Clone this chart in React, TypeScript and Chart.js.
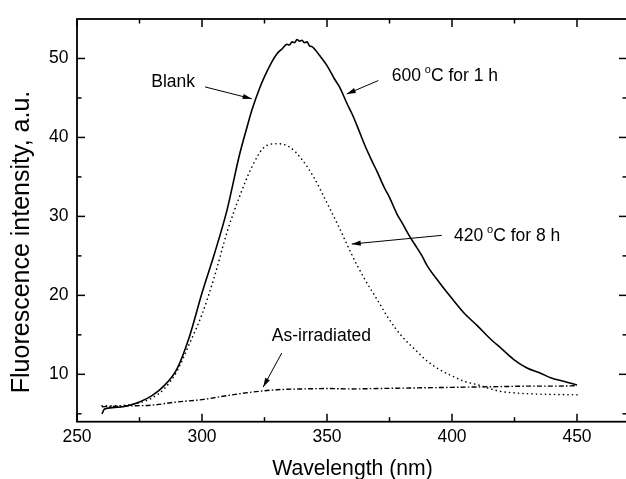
import React, { useEffect, useRef } from "react";
import { Chart, registerables } from "chart.js";

Chart.register(...registerables);

// ---- data ----
const solidWavelengths = [
  260, 261, 265, 270, 275, 280, 285, 290, 295, 300, 305, 310, 315, 318, 320, 323, 325, 328, 330, 332,
  334, 335, 336, 337, 338, 339, 340, 341, 342, 343, 344, 345, 347, 350, 353, 355, 358, 360, 362, 365,
  368, 370, 373, 375, 378, 380, 383, 385, 388, 390, 395, 400, 405, 410, 415, 420, 425, 430, 435, 440,
  445, 450,
];
const blankIntensity = [
  5.0, 5.6, 5.8, 6.0, 6.5, 7.3, 8.6, 10.7, 14.8, 20.3, 25.3, 30.8, 37.8, 41.3, 43.5, 46.2, 47.7, 49.6, 50.6, 51.2,
  51.8, 51.7, 52.1, 52.0, 52.4, 52.2, 52.3, 52.0, 52.1, 51.6, 51.5, 51.2, 50.4, 49.1, 47.4, 46.4, 44.3, 43.0, 41.5, 39.1,
  37.0, 35.7, 33.6, 32.4, 30.3, 29.2, 27.5, 26.5, 25.0, 23.8, 21.6, 19.6, 17.7, 16.2, 14.6, 13.2, 11.8, 10.8, 10.2, 9.5,
  9.1, 8.65,
];

const dottedWavelengths = [
  260, 265, 270, 275, 280, 285, 290, 295, 300, 305, 310, 315, 320, 325, 330, 335, 340, 345, 350, 355,
  360, 365, 370, 375, 380, 385, 390, 395, 400, 405, 410, 415, 420, 425, 430, 440, 450,
];
const annealed420Intensity = [
  6.0, 6.0, 6.1, 6.4, 7.0, 8.2, 10.4, 13.9, 17.6, 22.4, 28.0, 32.5, 36.3, 38.8, 39.2, 38.8, 37.2, 34.8, 31.7, 28.5,
  25.1, 22.1, 19.5, 16.9, 14.8, 13.2, 11.7, 10.6, 9.8, 9.1, 8.7, 8.2, 7.8, 7.65, 7.55, 7.45, 7.4,
];

const dashDotWavelengths = [
  260, 270, 280, 290, 300, 310, 320, 330, 340, 350, 360, 370, 380, 390, 400, 410, 420, 430, 440, 450,
];
const asIrradiatedIntensity = [
  5.9, 6.0, 6.1, 6.5, 6.8, 7.3, 7.75, 8.05, 8.15, 8.2, 8.15, 8.2, 8.25, 8.3, 8.35, 8.4, 8.45, 8.5, 8.5, 8.55,
];

const xMajorTicks = [250, 300, 350, 400, 450];
const xMinorTicks = [275, 325, 375, 425];
const yMajorTicks = [10, 20, 30, 40, 50];
const yMinorTicks = [5, 15, 25, 35, 45];

const xTitle = "Wavelength (nm)";
const yTitle = "Fluorescence intensity, a.u.";

// annotation labels: text parts, text anchor and arrow in data coordinates
const labelTexts = [
  { before: "Blank", sup: "", after: "" },
  { before: "600 ", sup: "o", after: "C for 1 h" },
  { before: "420 ", sup: "o", after: "C for 8 h" },
  { before: "As-irradiated", sup: "", after: "" },
];
const labelAnchors = [
  [279.7, 46.43],
  [375.9, 47.2],
  [400.8, 26.9],
  [327.9, 14.2],
];
const arrowFrom = [
  [301.2, 46.4],
  [370.5, 47.2],
  [395.9, 27.6],
  [331.9, 12.7],
];
const arrowTo = [
  [319.9, 44.9],
  [357.9, 45.5],
  [359.9, 26.5],
  [324.5, 8.4],
];

const FONT = '"Liberation Sans", Arial, Helvetica, sans-serif';

const toPoints = (xs: number[], ys: number[]) => xs.map((x, i) => ({ x, y: ys[i] }));

const decorPlugin = {
  id: "decor",
  afterDraw(chart: any) {
    const { ctx, chartArea: a, scales } = chart;
    const xs = scales.x;
    const ys = scales.y;
    ctx.save();
    ctx.strokeStyle = "#000";
    ctx.fillStyle = "#000";

    // frame
    ctx.lineWidth = 1.8;
    ctx.strokeRect(a.left, a.top, a.right - a.left, a.bottom - a.top);

    // inward ticks
    ctx.lineWidth = 1.5;
    const line = (x1: number, y1: number, x2: number, y2: number) => {
      ctx.beginPath();
      ctx.moveTo(x1, y1);
      ctx.lineTo(x2, y2);
      ctx.stroke();
    };
    const xTick = (v: number, len: number) => {
      const p = xs.getPixelForValue(v);
      line(p, a.bottom, p, a.bottom - len);
      line(p, a.top, p, a.top + len);
    };
    const yTick = (v: number, len: number) => {
      const p = ys.getPixelForValue(v);
      line(a.left, p, a.left + len, p);
      line(a.right, p, a.right - len, p);
    };
    xMajorTicks.forEach((v) => xTick(v, 8));
    xMinorTicks.forEach((v) => xTick(v, 4.5));
    yMajorTicks.forEach((v) => yTick(v, 8));
    yMinorTicks.forEach((v) => yTick(v, 4.5));

    // annotations
    const mainFont = `17.5px ${FONT}`;
    const supFont = `11px ${FONT}`;
    ctx.textBaseline = "alphabetic";
    ctx.textAlign = "left";
    labelTexts.forEach((t, i) => {
      let x = xs.getPixelForValue(labelAnchors[i][0]);
      const y = ys.getPixelForValue(labelAnchors[i][1]);
      ctx.font = mainFont;
      ctx.fillText(t.before, x, y);
      x += ctx.measureText(t.before).width;
      if (t.sup) {
        ctx.font = supFont;
        ctx.fillText(t.sup, x - 1, y - 8);
        x += ctx.measureText(t.sup).width;
        ctx.font = mainFont;
        ctx.fillText(t.after, x - 1, y);
      }
      // arrow
      const x1 = xs.getPixelForValue(arrowFrom[i][0]);
      const y1 = ys.getPixelForValue(arrowFrom[i][1]);
      const x2 = xs.getPixelForValue(arrowTo[i][0]);
      const y2 = ys.getPixelForValue(arrowTo[i][1]);
      ctx.lineWidth = 1;
      line(x1, y1, x2, y2);
      const ang = Math.atan2(y2 - y1, x2 - x1);
      const L = 9;
      const W = 2.6;
      const bx = x2 - L * Math.cos(ang);
      const by = y2 - L * Math.sin(ang);
      ctx.beginPath();
      ctx.moveTo(x2, y2);
      ctx.lineTo(bx + W * Math.sin(ang), by - W * Math.cos(ang));
      ctx.lineTo(bx - W * Math.sin(ang), by + W * Math.cos(ang));
      ctx.closePath();
      ctx.fill();
    });

    // axis titles
    ctx.font = `21.2px ${FONT}`;
    ctx.textAlign = "center";
    ctx.fillText(xTitle, 352.5, 475);
    ctx.save();
    ctx.translate(28.5, 242);
    ctx.rotate(-Math.PI / 2);
    ctx.font = `25px ${FONT}`;
    ctx.fillText(yTitle, 0, 0);
    ctx.restore();

    ctx.restore();
  },
};

export default function App() {
  const canvasRef = useRef<HTMLCanvasElement | null>(null);

  useEffect(() => {
    const canvas = canvasRef.current;
    if (!canvas) return;
    const chart = new Chart(canvas, {
      type: "line",
      data: {
        datasets: [
          {
            label: "Blank / 600 °C for 1 h",
            data: toPoints(solidWavelengths, blankIntensity),
            borderColor: "#000",
            borderWidth: 1.6,
            pointRadius: 0,
            cubicInterpolationMode: "monotone",
            fill: false,
          },
          {
            label: "420 °C for 8 h",
            data: toPoints(dottedWavelengths, annealed420Intensity),
            borderColor: "#000",
            borderWidth: 1.6,
            borderDash: [0.1, 4.4],
            borderCapStyle: "round",
            pointRadius: 0,
            cubicInterpolationMode: "monotone",
            fill: false,
          },
          {
            label: "As-irradiated",
            data: toPoints(dashDotWavelengths, asIrradiatedIntensity),
            borderColor: "#000",
            borderWidth: 1.4,
            borderDash: [5, 2.2, 1.5, 2.2],
            pointRadius: 0,
            cubicInterpolationMode: "monotone",
            fill: false,
          },
        ],
      },
      options: {
        animation: false,
        responsive: false,
        maintainAspectRatio: false,
        devicePixelRatio: 1,
        layout: { padding: { left: 0, right: 3, top: 12, bottom: 0 } },
        plugins: {
          legend: { display: false },
          tooltip: { enabled: false },
          title: { display: false },
        },
        scales: {
          x: {
            type: "linear",
            min: 250,
            max: 470,
            grid: { display: false, drawTicks: false, tickLength: 0 },
            border: { display: false },
            afterBuildTicks: (s: any) => {
              s.ticks = xMajorTicks.map((v) => ({ value: v }));
            },
            afterFit: (s: any) => {
              s.height = 57.3;
            },
            ticks: {
              color: "#000",
              padding: 5,
              maxRotation: 0,
              autoSkip: false,
              font: { family: FONT, size: 17.5 },
            },
          },
          y: {
            type: "linear",
            min: 4,
            max: 55,
            grid: { display: false, drawTicks: false, tickLength: 0 },
            border: { display: false },
            afterBuildTicks: (s: any) => {
              s.ticks = yMajorTicks.map((v) => ({ value: v }));
            },
            afterFit: (s: any) => {
              s.width = 77;
            },
            ticks: {
              color: "#000",
              padding: 8.5,
              autoSkip: false,
              font: { family: FONT, size: 17.5 },
            },
          },
        },
      },
      plugins: [decorPlugin],
    } as any);
    return () => chart.destroy();
  }, []);

  return (
    <div
      style={{
        position: "fixed",
        left: 0,
        top: 0,
        width: 626,
        height: 479,
        overflow: "hidden",
        background: "#fff",
      }}
    >
      <canvas ref={canvasRef} width={630} height={479} style={{ display: "block", width: 630, height: 479 }} />
    </div>
  );
}
